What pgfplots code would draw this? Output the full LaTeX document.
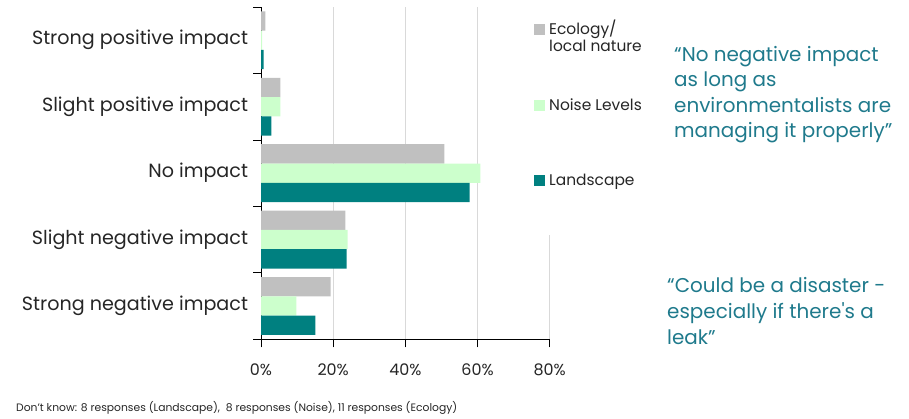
\documentclass[border=0pt]{standalone}
\usepackage{pgfplots}
\pgfplotsset{compat=1.18}
\usepackage{fontspec}
\setmainfont{Poppins}
\newfontfamily\qfont{Poppins}[Ligatures=TeXOff]
\definecolor{ecol}{HTML}{C0C0C0}
\definecolor{noise}{HTML}{CCFFCC}
\definecolor{land}{HTML}{008080}
\definecolor{quotec}{HTML}{1F7A8C}
\definecolor{txt}{HTML}{262626}
\definecolor{gridc}{HTML}{D9D9D9}
\begin{document}
\begin{tikzpicture}[x=1bp,y=1bp]
\path[use as bounding box] (0,0) rectangle (909,418);
\begin{axis}[
  at={(261bp,78.7bp)}, anchor=south west,
  scale only axis, width=288.7bp, height=332.3bp,
  xmin=0, xmax=80, ymin=-0.5, ymax=4.5,
  axis x line*=bottom, axis y line*=left,
  axis line style={black, line width=0.8bp, -},
  xtick={0,20,40,60,80},
  /pgf/number format/assume math mode=true,
  xticklabel={\pgfmathprintnumber{\tick}\%},
  xmajorgrids, major grid style={gridc, line width=1bp},
  tick align=outside, major tick length=8bp,
  tick style={black, line width=0.8bp},
  ytick={-0.5,0.5,...,4.5}, yticklabels={},
  extra y ticks={0,1,2,3,4},
  extra y tick labels={Strong negative impact, Slight negative impact, No impact, Slight positive impact, Strong positive impact},
  extra y tick style={major tick length=0pt, yticklabel style={xshift=-9.5bp}},
  xticklabel style={font=\fontsize{16}{18}\selectfont, text=txt, yshift=-13bp},
  yticklabel style={font=\fontsize{19.2}{22}\selectfont, text=txt},
  xbar, bar width=0.29,
  legend style={at={(axis description cs:0.911,1.105)}, anchor=north west, draw=none, fill=white,
    inner xsep=10bp, inner ysep=48bp, font=\fontsize{15.5}{17}\selectfont, text=txt,
    cells={anchor=base west}, nodes={inner sep=0pt}, row sep=62bp, column sep=4bp},
  legend image code/.code={\fill[#1] (0bp,-0.5bp) rectangle (11bp,10.5bp);},
]
\addplot[fill=ecol, draw=none, bar shift=0.29] coordinates {(19.3,0) (23.4,1) (50.8,2) (5.4,3) (1.2,4)};
\addlegendentry{\parbox[t]{3.5cm}{Ecology/\\local nature}}
\addplot[fill=noise, draw=none, bar shift=0] coordinates {(9.8,0) (24.0,1) (60.8,2) (5.4,3) (0.3,4)};
\addlegendentry{Noise Levels\rule[-25bp]{0pt}{0pt}}
\addplot[fill=land, draw=none, bar shift=-0.29] coordinates {(15.1,0) (23.7,1) (57.8,2) (2.9,3) (0.7,4)};
\addlegendentry{Landscape}
\end{axis}
\node[anchor=north west, align=left, text=quotec, font=\qfont\fontsize{20}{25.5}\selectfont, inner sep=0pt] at (674,372) {“No negative impact\\as long as\\environmentalists are\\managing it properly”};
\node[anchor=north west, align=left, text=quotec, font=\qfont\fontsize{20}{26}\selectfont, inner sep=0pt] at (667,141) {“Could be a disaster -\\especially if there's a\\leak”};
\node[anchor=west, text=txt, font=\fontsize{10.8}{12}\selectfont, inner sep=0pt] at (16,10) {Don’t know: 8 responses (Landscape),\ \ 8 responses (Noise), 11 responses (Ecology)};
\end{tikzpicture}
\end{document}
